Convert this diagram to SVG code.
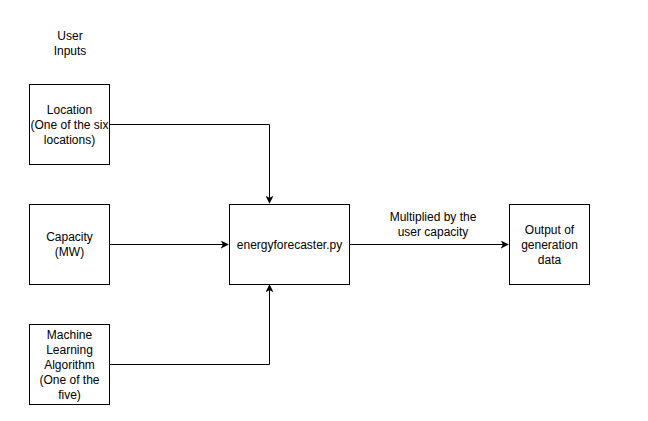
<svg xmlns="http://www.w3.org/2000/svg" width="648" height="421" viewBox="0 0 648 421">
<style>
.box{fill:#fff;stroke:#000;stroke-width:1}
.t{font-family:"Liberation Sans",Arial,sans-serif;font-size:12px;fill:#000;text-anchor:middle}
.e{fill:none;stroke:#000;stroke-width:1}
</style>
<defs>
<marker id="arr" viewBox="0 0 10 10" refX="9" refY="5" markerWidth="8" markerHeight="8" markerUnits="userSpaceOnUse" orient="auto">
<path d="M0,0 L10,5 L0,10 L2.5,5 Z" fill="#000"/>
</marker>
</defs>
<rect width="648" height="421" fill="#fff"/>
<g id="label-user-inputs">
<text class="t" x="70" y="40">User</text>
<text class="t" x="70" y="55">Inputs</text>
</g>
<g id="connectors">
<path class="e" d="M109.5,124.5 H269.5 V203" marker-end="url(#arr)"/>
<path class="e" d="M109.5,244.5 H228" marker-end="url(#arr)"/>
<path class="e" d="M109.5,364.5 H269.5 V285" marker-end="url(#arr)"/>
<path class="e" d="M349.5,244.5 H508" marker-end="url(#arr)"/>
<text class="t" x="433" y="221">Multiplied by the</text>
<text class="t" x="433" y="236">user capacity</text>
</g>
<g id="location">
<rect class="box" x="29.5" y="84.5" width="80" height="80"/>
<text class="t" x="69.5" y="114">Location</text>
<text class="t" x="69.5" y="129">(One of the six</text>
<text class="t" x="69.5" y="144">locations)</text>
</g>
<g id="capacity">
<rect class="box" x="29.5" y="204.5" width="80" height="80"/>
<text class="t" x="69.5" y="241">Capacity</text>
<text class="t" x="69.5" y="256">(MW)</text>
</g>
<g id="ml">
<rect class="box" x="29.5" y="324.5" width="80" height="80"/>
<text class="t" x="69.5" y="339">Machine</text>
<text class="t" x="69.5" y="354">Learning</text>
<text class="t" x="69.5" y="369">Algorithm</text>
<text class="t" x="69.5" y="384">(One of the</text>
<text class="t" x="69.5" y="399">five)</text>
</g>
<g id="energyforecaster">
<rect class="box" x="229.5" y="204.5" width="120" height="80"/>
<text class="t" x="289.5" y="249">energyforecaster.py</text>
</g>
<g id="output">
<rect class="box" x="509.5" y="204.5" width="80" height="80"/>
<text class="t" x="549.5" y="234">Output of</text>
<text class="t" x="549.5" y="249">generation</text>
<text class="t" x="549.5" y="264">data</text>
</g>
</svg>
